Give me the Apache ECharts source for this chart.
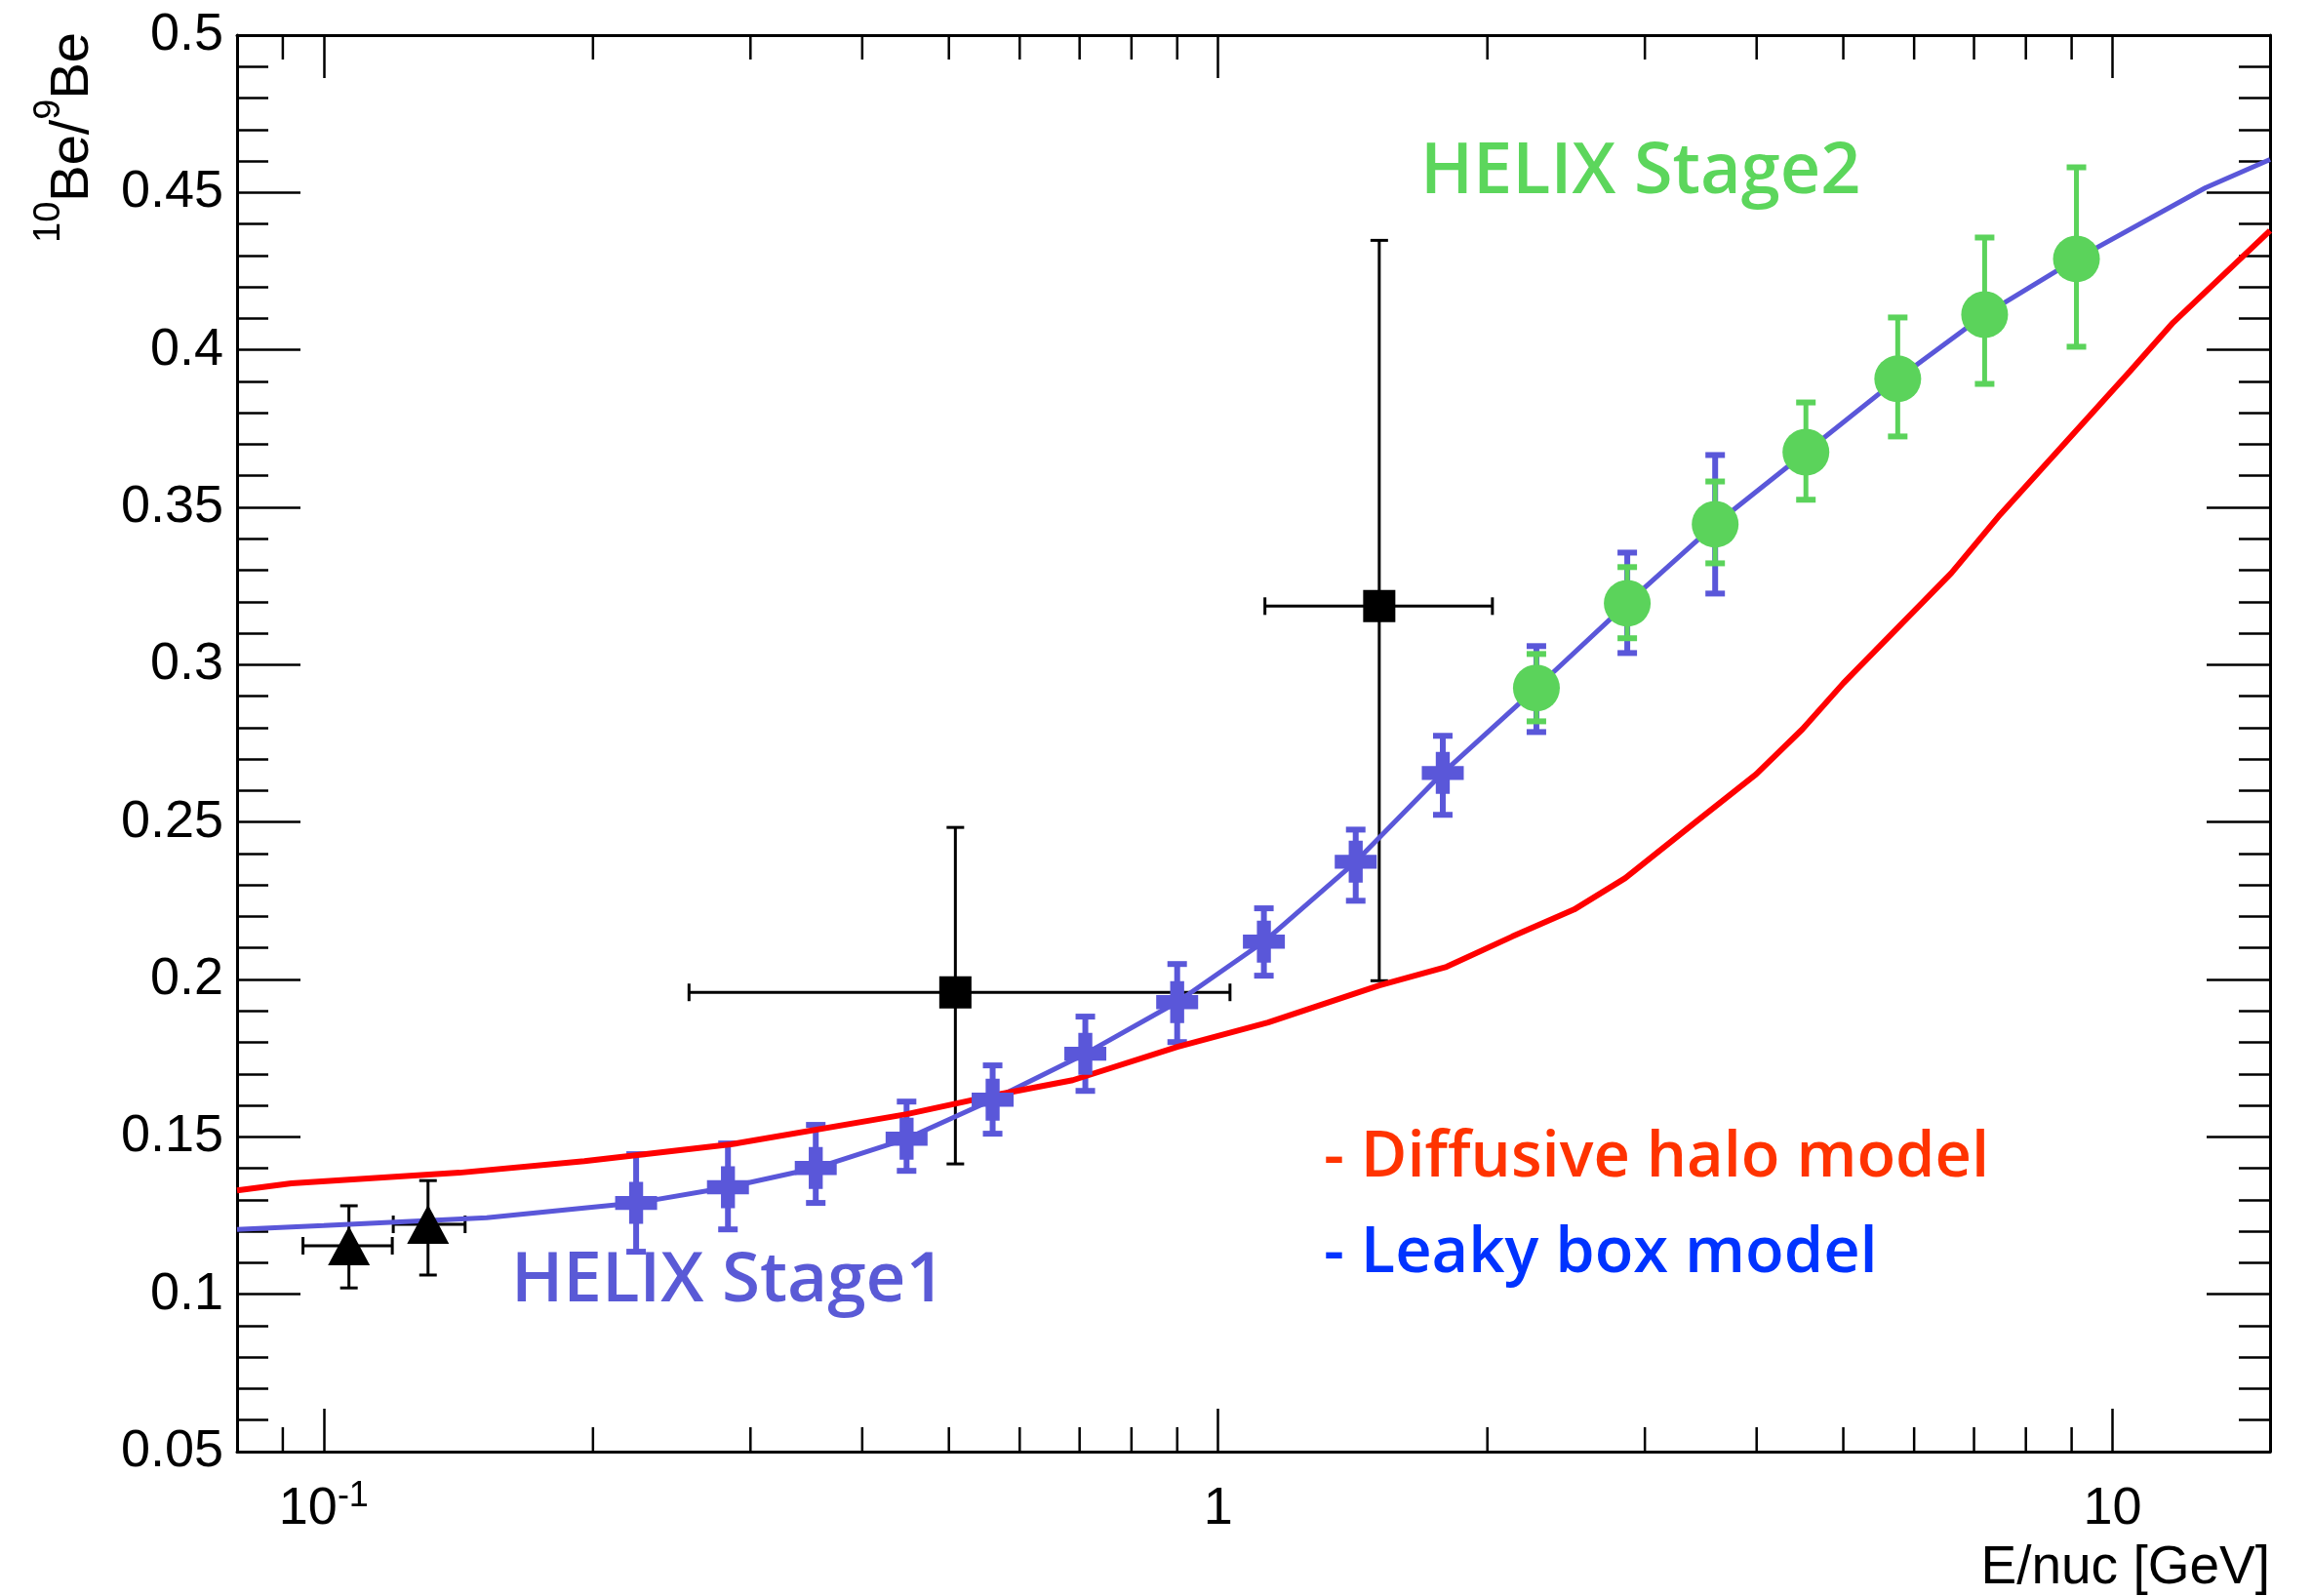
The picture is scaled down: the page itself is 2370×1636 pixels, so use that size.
<!DOCTYPE html>
<html><head><meta charset="utf-8">
<script src="https://cdn.jsdelivr.net/npm/echarts@6/dist/echarts.min.js"></script>
<style>html,body{margin:0;padding:0;background:#fff}#c{width:2370px;height:1636px}</style>
</head><body><div id="c"></div>
<script>
// ---- axes ----
const xMin = 0.08, xMax = 15;
const yMin = 0.05, yMax = 0.5, yStep = 0.05;
const xMinorTicks = [0.09, 0.2, 0.3, 0.4, 0.5, 0.6, 0.7, 0.8, 0.9, 2, 3, 4, 5, 6, 7, 8, 9];
const xTickExp = [-1, 0, 1];
const xTickLabels = ['{b|10}{s|-1}', '1', '10'];
const yTitleParts = [['10', 'sup'], ['Be/', 'main'], ['9', 'sup'], ['Be', 'main']];
const xTitle = 'E/nuc [GeV]';

// ---- model curves ----
const leakyE = [0.08, 0.10, 0.1521, 0.1956, 0.2235, 0.2831, 0.3549, 0.4484, 0.5596, 0.7104, 0.8999, 1.125, 1.425, 1.783, 2.269, 2.867, 3.595, 4.541, 5.752, 7.194, 9.112, 12.70, 15.0];
const leakyR = [0.1206, 0.1218, 0.1243, 0.1274, 0.1290, 0.1340, 0.1401, 0.1494, 0.1618, 0.1764, 0.1928, 0.2120, 0.2374, 0.2656, 0.2926, 0.3195, 0.3446, 0.3675, 0.3908, 0.4112, 0.4289, 0.4515, 0.4605];
const haloE = [0.08, 0.092, 0.1418, 0.1956, 0.2852, 0.4484, 0.5596, 0.6878, 0.90, 1.137, 1.514, 1.80, 2.131, 2.50, 2.852, 3.40, 3.995, 4.50, 5.0, 6.604, 7.488, 10.46, 11.69, 15.0];
const haloR = [0.1330, 0.1352, 0.1386, 0.1423, 0.1476, 0.1572, 0.1631, 0.1680, 0.1786, 0.1863, 0.1981, 0.2040, 0.2136, 0.2222, 0.2322, 0.2495, 0.2652, 0.2795, 0.2941, 0.3291, 0.3477, 0.3932, 0.4087, 0.4379];

// ---- HELIX Stage1 ----
const s1E  = [0.2235, 0.2831, 0.3549, 0.4484, 0.5596, 0.7104, 0.8999, 1.125, 1.425, 1.783, 2.269, 2.867, 3.595];
const s1R  = [0.1290, 0.1340, 0.1401, 0.1494, 0.1618, 0.1764, 0.1928, 0.2120, 0.2374, 0.2656, 0.2926, 0.3195, 0.3446];
const s1Lo = [0.1135, 0.1206, 0.1290, 0.1392, 0.1510, 0.1646, 0.1801, 0.2012, 0.2250, 0.2523, 0.2786, 0.3037, 0.3226];
const s1Hi = [0.1445, 0.1479, 0.1538, 0.1612, 0.1727, 0.1882, 0.2049, 0.2226, 0.2476, 0.2774, 0.3059, 0.3356, 0.3666];

// ---- HELIX Stage2 ----
const s2E  = [2.269, 2.867, 3.595, 4.541, 5.752, 7.194, 9.112];
const s2R  = [0.2926, 0.3195, 0.3446, 0.3675, 0.3908, 0.4112, 0.4289];
const s2Lo = [0.2820, 0.3084, 0.3322, 0.3524, 0.3725, 0.3892, 0.4010];
const s2Hi = [0.3034, 0.3310, 0.3582, 0.3833, 0.4103, 0.4357, 0.4580];

// ---- black squares ----
const sqE = [0.5084, 1.514], sqR = [0.1959, 0.3186];
const sqELo = [0.2561, 1.128], sqEHi = [1.031, 2.026];
const sqRLo = [0.1414, 0.1996], sqRHi = [0.2483, 0.4348];

// ---- black triangles ----
const trE = [0.1067, 0.1308], trR = [0.1154, 0.1222];
const trELo = [0.0948, 0.1196], trEHi = [0.1193, 0.1439];
const trRLo = [0.1020, 0.1061], trRHi = [0.1281, 0.1361];

const BLUE = '#5a57d9', GREEN = '#5bd35b', BLACK = '#000';
const FONT = 'Liberation Sans';

function zip(...arrs) { return arrs[0].map((_, i) => arrs.map(a => a[i])); }

function errRender(color, stemW, capLen, capW, withX) {
  return function (params, api) {
    const x = api.value(0), y = api.value(1);
    const p = api.coord([x, y]);
    const lo = api.coord([x, api.value(2)]), hi = api.coord([x, api.value(3)]);
    const st = { stroke: color, lineWidth: stemW };
    const cs = { stroke: color, lineWidth: capW };
    const ch = [
      { type: 'line', shape: { x1: p[0], y1: lo[1], x2: p[0], y2: hi[1] }, style: st },
      { type: 'line', shape: { x1: p[0] - capLen / 2, y1: lo[1], x2: p[0] + capLen / 2, y2: lo[1] }, style: cs },
      { type: 'line', shape: { x1: p[0] - capLen / 2, y1: hi[1], x2: p[0] + capLen / 2, y2: hi[1] }, style: cs }
    ];
    if (withX) {
      const l = api.coord([api.value(4), y]), r = api.coord([api.value(5), y]);
      ch.push({ type: 'line', shape: { x1: l[0], y1: p[1], x2: r[0], y2: p[1] }, style: st });
      ch.push({ type: 'line', shape: { x1: l[0], y1: p[1] - capLen / 2, x2: l[0], y2: p[1] + capLen / 2 }, style: cs });
      ch.push({ type: 'line', shape: { x1: r[0], y1: p[1] - capLen / 2, x2: r[0], y2: p[1] + capLen / 2 }, style: cs });
    }
    return { type: 'group', children: ch };
  };
}

function minorRender(params, api) {
  const v = api.value(0);
  const b = api.coord([v, yMin]), t = api.coord([v, yMax]);
  const s = { stroke: BLACK, lineWidth: 2.5 };
  return { type: 'group', children: [
    { type: 'line', shape: { x1: b[0], y1: b[1], x2: b[0], y2: b[1] - 25 }, style: s },
    { type: 'line', shape: { x1: t[0], y1: t[1], x2: t[0], y2: t[1] + 25 }, style: s }
  ] };
}

const PLUS = 'path://M1,0H2V1H3V2H2V3H1V2H0V1H1Z';

function xLabel(v) {
  const e = Math.log10(v), r = Math.round(e);
  if (Math.abs(e - r) > 1e-6) return '';
  const i = xTickExp.indexOf(r);
  return i < 0 ? '' : xTickLabels[i];
}

// rotated y-axis title built from pieces (main text + superscripts)
const mctx = document.createElement('canvas').getContext('2d');
function textW(t, font) { mctx.font = font; return mctx.measureText(t).width; }
const titleFonts = { main: '56px "Liberation Sans"', sup: '38px "Liberation Sans"' };
const titleX = { main: 94 - 0.35 * 56, sup: 64 - 0.35 * 38 };
const yTitleEls = [];
(function () {
  let yEnd = 33;
  for (let i = yTitleParts.length - 1; i >= 0; i--) {
    const [t, kind] = yTitleParts[i];
    yTitleEls.push({ type: 'text', x: titleX[kind], y: yEnd, rotation: Math.PI / 2, silent: true,
      style: { text: t, font: titleFonts[kind], fill: BLACK, align: 'right', verticalAlign: 'middle' } });
    yEnd += textW(t, titleFonts[kind]);
  }
})();

const xAxisBase = {
  type: 'log', logBase: 10, min: xMin, max: xMax,
  axisLine: { show: true, lineStyle: { color: BLACK, width: 3 } },
  axisTick: { show: true, inside: true, length: 44, lineStyle: { color: BLACK, width: 2.5 } },
  minorTick: { show: false }, splitLine: { show: false }, minorSplitLine: { show: false }
};
const yAxisBase = {
  type: 'value', min: yMin, max: yMax, interval: yStep,
  axisLine: { show: true, lineStyle: { color: BLACK, width: 3 } },
  axisTick: { show: true, inside: true, length: 65, lineStyle: { color: BLACK, width: 2.5 } },
  minorTick: { show: true, splitNumber: 5, length: 32, lineStyle: { color: BLACK, width: 2.5 } },
  splitLine: { show: false }
};

const TXT = '"Open Sans", sans-serif';

const chart = echarts.init(document.getElementById('c'), null, { renderer: 'canvas' });
chart.setOption({
  animation: false,
  backgroundColor: '#fff',
  textStyle: { fontFamily: FONT },
  grid: { left: 243, right: 43, top: 36, bottom: 148, containLabel: false },
  xAxis: [
    Object.assign({}, xAxisBase, {
      position: 'bottom',
      axisLabel: {
        show: true, margin: 28, color: BLACK, fontFamily: FONT, fontSize: 54, lineHeight: 62,
        formatter: xLabel,
        rich: { b: { fontSize: 54, fontFamily: FONT, color: BLACK, lineHeight: 62 },
                s: { fontSize: 36, fontFamily: FONT, color: BLACK, verticalAlign: 'top', lineHeight: 40 } }
      }
    }),
    Object.assign({}, xAxisBase, { position: 'top', axisLabel: { show: false } })
  ],
  yAxis: [
    Object.assign({}, yAxisBase, {
      position: 'left',
      axisLabel: { show: true, margin: 14, color: BLACK, fontFamily: FONT, fontSize: 54,
        formatter: v => String(+(+v).toFixed(2)) }
    }),
    Object.assign({}, yAxisBase, { position: 'right', axisLabel: { show: false } })
  ],
  series: [
    { type: 'custom', name: 'minorX', renderItem: minorRender, silent: true, clip: false,
      data: xMinorTicks.map(v => [v, yMin]), z: 3 },
    { type: 'line', name: 'Leaky box model', data: zip(leakyE, leakyR), showSymbol: false,
      smooth: false, lineStyle: { color: BLUE, width: 5 }, silent: true, z: 2 },
    { type: 'line', name: 'Diffusive halo model', data: zip(haloE, haloR), showSymbol: false,
      smooth: false, lineStyle: { color: '#ff0000', width: 6 }, silent: true, z: 2 },
    { type: 'custom', name: 'trErr', renderItem: errRender(BLACK, 3, 18, 3, true),
      data: zip(trE, trR, trRLo, trRHi, trELo, trEHi), silent: true, z: 2 },
    { type: 'scatter', name: 'triangles', data: zip(trE, trR), symbol: 'triangle', symbolSize: [43, 40],
      itemStyle: { color: BLACK, opacity: 1 }, silent: true, z: 2 },
    { type: 'custom', name: 'sqErr', renderItem: errRender(BLACK, 3, 18, 3, true),
      data: zip(sqE, sqR, sqRLo, sqRHi, sqELo, sqEHi), silent: true, z: 2 },
    { type: 'scatter', name: 'squares', data: zip(sqE, sqR), symbol: 'rect', symbolSize: 33,
      itemStyle: { color: BLACK, opacity: 1 }, silent: true, z: 2 },
    { type: 'custom', name: 's1Err', renderItem: errRender(BLUE, 6, 20, 6, false),
      data: zip(s1E, s1R, s1Lo, s1Hi), silent: true, z: 2 },
    { type: 'scatter', name: 'HELIX Stage1', data: zip(s1E, s1R), symbol: PLUS, symbolSize: 43,
      itemStyle: { color: BLUE, opacity: 1 }, silent: true, z: 2 },
    { type: 'custom', name: 's2Err', renderItem: errRender(GREEN, 5, 20, 6, false),
      data: zip(s2E, s2R, s2Lo, s2Hi), silent: true, z: 2 },
    { type: 'scatter', name: 'HELIX Stage2', data: zip(s2E, s2R), symbol: 'circle', symbolSize: 48,
      itemStyle: { color: GREEN, opacity: 1 }, silent: true, z: 2 }
  ],
  graphic: [
    { type: 'text', x: 1456, y: 177, silent: true,
      style: { text: 'HELIX Stage2', fill: '#5cd65c', font: '600 72px ' + TXT, align: 'left', verticalAlign: 'middle' } },
    { type: 'text', x: 524, y: 1314, silent: true,
      style: { text: 'HELIX Stage1', fill: '#5a5ad6', font: '600 71px ' + TXT, align: 'left', verticalAlign: 'middle' } },
    { type: 'text', x: 1357, y: 1187, silent: true,
      style: { text: '- Diffusive halo model', fill: '#ff3300', font: '600 65px ' + TXT, align: 'left', verticalAlign: 'middle' } },
    { type: 'text', x: 1357, y: 1285, silent: true,
      style: { text: '- Leaky box model', fill: '#0033ff', font: '600 65px ' + TXT, align: 'left', verticalAlign: 'middle' } },
    { type: 'text', x: 2327, y: 1608, silent: true,
      style: { text: xTitle, fill: BLACK, font: '55px "Liberation Sans"', align: 'right', verticalAlign: 'middle' } }
  ].concat(yTitleEls)
});
</script></body></html>
